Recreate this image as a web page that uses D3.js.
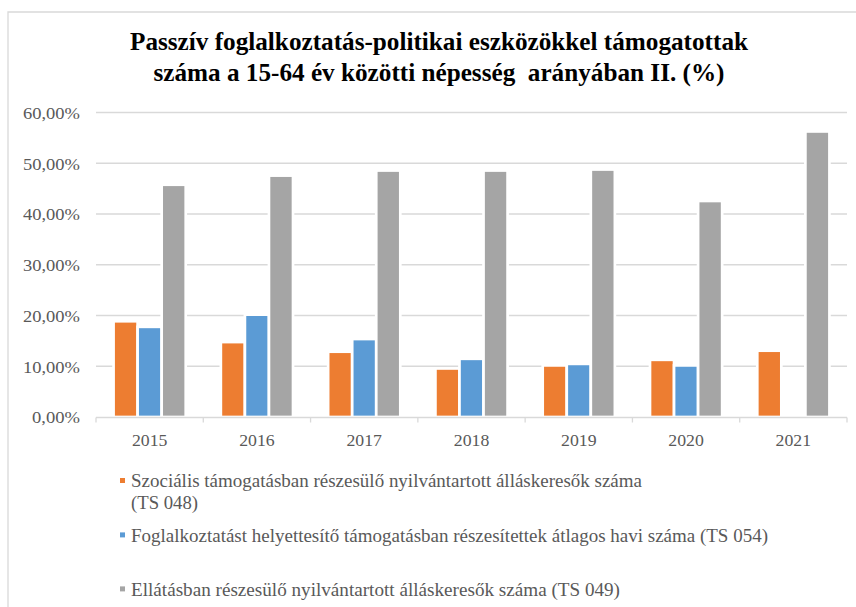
<!DOCTYPE html>
<html>
<head>
<meta charset="utf-8">
<script src="https://cdn.jsdelivr.net/npm/d3@7"></script>
<style>
  html, body { margin: 0; padding: 0; background: #fff; }
  svg { display: block; }
</style>
</head>
<body>
<svg id="chart" width="856" height="607"></svg>
<script>
// ---- Data ----
const titleLines = [
  "Passzív foglalkoztatás-politikai eszközökkel támogatottak",
  "száma a 15-64 év közötti népesség  arányában II. (%)"
];
const categories = ["2015", "2016", "2017", "2018", "2019", "2020", "2021"];
const seriesNames = [
  ["Szociális támogatásban részesülő nyilvántartott álláskeresők száma", "(TS 048)"],
  ["Foglalkoztatást helyettesítő támogatásban részesítettek átlagos havi száma (TS 054)"],
  ["Ellátásban részesülő nyilvántartott álláskeresők száma (TS 049)"]
];
const socialValues = [18.6, 14.5, 12.6, 9.3, 9.9, 11.0, 12.8];
const replacementValues = [17.5, 19.9, 15.1, 11.2, 10.2, 9.9, null];
const benefitValues = [45.5, 47.3, 48.3, 48.3, 48.5, 42.3, 56.0];
const yTicks = [0, 10, 20, 30, 40, 50, 60];
const colors = ["#ED7D31", "#5B9BD5", "#A5A5A5"];

// ---- Layout ----
const svg = d3.select("#chart");
const plot = { left: 96, right: 847, top: 112.5, bottom: 417 };
const serif = "'Liberation Serif', 'Times New Roman', serif";
const textGray = "#595959";
const gridGray = "#D9D9D9";
const halo = 2.7;

// chart area border
svg.append("path")
  .attr("d", "M8,620 L8,12 L870,12")
  .attr("fill", "none").attr("stroke", gridGray).attr("stroke-width", 1.3);

// title
const titleWidths = [618, 571];
svg.append("g").selectAll("text").data(titleLines).join("text")
  .attr("x", 439).attr("y", (d, i) => 50 + i * 31)
  .attr("text-anchor", "middle")
  .attr("xml:space", "preserve")
  .attr("font-family", serif).attr("font-weight", "bold").attr("font-size", 25)
  .attr("fill", "#000")
  .attr("textLength", (d, i) => titleWidths[i]).attr("lengthAdjust", "spacingAndGlyphs")
  .text(d => d);

// scales
const y = d3.scaleLinear().domain([0, 60]).range([plot.bottom, plot.top]);
const x0 = d3.scaleBand().domain(categories).range([plot.left, plot.right]).padding(0);
const x1 = d3.scaleBand().domain([0, 1, 2]).range([0, x0.bandwidth()]).paddingInner(0).paddingOuter(0.73);

// gridlines
svg.append("g").selectAll("line").data(yTicks.filter(t => t > 0)).join("line")
  .attr("x1", plot.left).attr("x2", plot.right)
  .attr("y1", d => y(d)).attr("y2", d => y(d))
  .attr("stroke", gridGray).attr("stroke-width", 1.3);

// y labels
const fmt = v => d3.format(".2f")(v).replace(".", ",") + "%";
svg.append("g").selectAll("text").data(yTicks).join("text")
  .attr("x", 80).attr("y", d => y(d) + 6.3)
  .attr("text-anchor", "end")
  .attr("font-family", serif).attr("font-size", 16.5).attr("fill", textGray)
  .attr("textLength", d => d === 0 ? 48 : 57).attr("lengthAdjust", "spacingAndGlyphs")
  .text(d => fmt(d));

// bars
const seriesValues = [socialValues, replacementValues, benefitValues];
const barData = [];
categories.forEach((c, ci) => {
  seriesValues.forEach((vals, si) => {
    if (vals[ci] != null) barData.push({ cat: c, s: si, v: vals[ci] });
  });
});
svg.append("g").selectAll("rect").data(barData).join("rect")
  .attr("x", d => x0(d.cat) + x1(d.s))
  .attr("width", x1.bandwidth())
  .attr("y", d => y(d.v) - halo / 2)
  .attr("height", d => y(0) - y(d.v) + halo / 2)
  .attr("fill", d => colors[d.s])
  .attr("stroke", "#fff").attr("stroke-width", halo);

// x axis
const xAxis = svg.append("g").attr("transform", `translate(0,${plot.bottom + 0.5})`);
xAxis.append("line").attr("x1", plot.left).attr("x2", plot.right)
  .attr("stroke", gridGray).attr("stroke-width", 1.3);
const boundaries = categories.map(c => x0(c)).concat([plot.right]);
xAxis.selectAll("line.tick").data(boundaries).join("line").attr("class", "tick")
  .attr("x1", d => d).attr("x2", d => d).attr("y1", 0).attr("y2", 5)
  .attr("stroke", gridGray).attr("stroke-width", 1.3);
svg.append("g").selectAll("text").data(categories).join("text")
  .attr("x", d => x0(d) + x0.bandwidth() / 2).attr("y", 445.5)
  .attr("text-anchor", "middle")
  .attr("font-family", serif).attr("font-size", 17.5).attr("fill", textGray)
  .attr("textLength", 35.5).attr("lengthAdjust", "spacingAndGlyphs")
  .text(d => d);

// legend
const legendBaselines = [487.3, 541.7, 595.7];
const legendWidths = [[511, 67], [637], [489]];
const legend = svg.append("g");
seriesNames.forEach((lines, i) => {
  legend.append("rect")
    .attr("x", 120).attr("y", legendBaselines[i] - 9.3)
    .attr("width", 5).attr("height", 5).attr("fill", colors[i]);
  lines.forEach((ln, li) => {
    legend.append("text")
      .attr("x", 131).attr("y", legendBaselines[i] + li * 22)
      .attr("font-family", serif).attr("font-size", 18).attr("fill", textGray)
      .attr("textLength", legendWidths[i][li]).attr("lengthAdjust", "spacingAndGlyphs")
      .text(ln);
  });
});
</script>
</body>
</html>
